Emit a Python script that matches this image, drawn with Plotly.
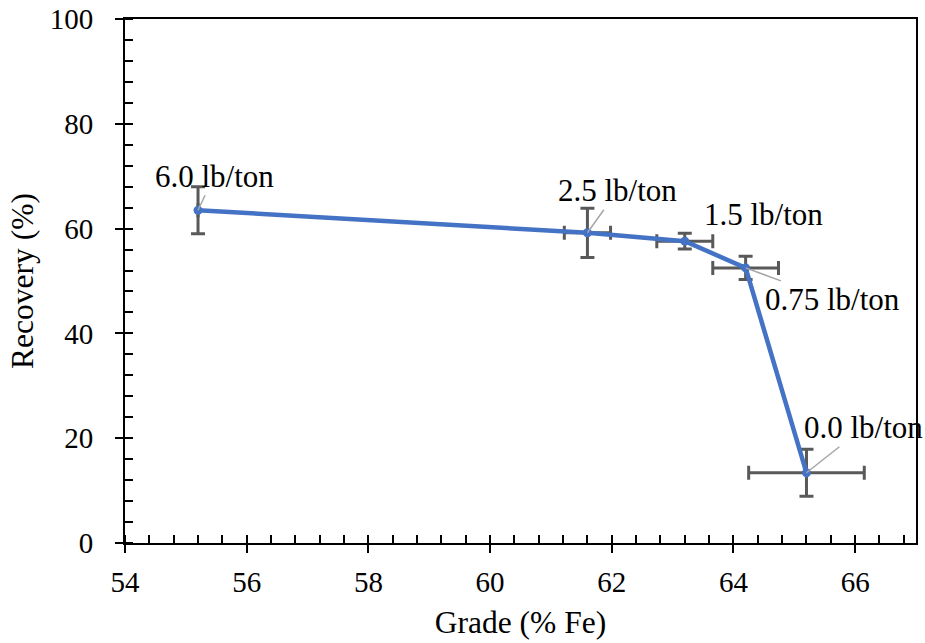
import plotly.graph_objects as go

grade = [55.2, 61.6, 63.2, 64.2, 65.2]
recovery = [63.5, 59.2, 57.6, 52.5, 13.4]
recovery_err = [4.5, 4.7, 1.5, 2.2, 4.5]
grade_err = [0.0, 0.38, 0.46, 0.54, 0.95]
labels = ["6.0 lb/ton", "2.5 lb/ton", "1.5 lb/ton", "0.75 lb/ton", "0.0 lb/ton"]
label_dx = [16, 30, 79, 87, 57]
label_dy = [-34, -42, -27, 32, -45]
label_arrow = [True, True, False, True, True]

FONT = "Liberation Serif"

fig = go.Figure()
fig.add_trace(go.Scatter(
    x=grade, y=recovery, mode="lines+markers",
    line=dict(color="#4472C4", width=4.5),
    marker=dict(color="#4472C4", size=9),
    error_y=dict(type="data", array=recovery_err, color="#595959", thickness=3, width=7),
    error_x=dict(type="data", array=grade_err, color="#595959", thickness=3, width=7),
    showlegend=False,
))

for x, y, t, dx, dy, arr in zip(grade, recovery, labels, label_dx, label_dy, label_arrow):
    if arr:
        fig.add_annotation(x=x, y=y, text=t, showarrow=True, ax=dx, ay=dy,
                           arrowhead=0, arrowcolor="#A6A6A6", arrowwidth=1.5,
                           font=dict(family=FONT, size=31, color="black"))
    else:
        fig.add_annotation(x=x, y=y, text=t, showarrow=False, xshift=dx, yshift=-dy,
                           font=dict(family=FONT, size=31, color="black"))

axis_common = dict(
    showline=True, linecolor="black", linewidth=2, mirror=True,
    showgrid=False, zeroline=False,
    ticks="outside", ticklen=8, tickwidth=2, tickcolor="black",
    tickfont=dict(family=FONT, size=29, color="black"),
    ticklabeloverflow="allow",
)

fig.update_xaxes(range=[54, 67], dtick=2, tick0=54,
                 minor=dict(dtick=0.4, ticks="inside", ticklen=8, tickwidth=2, tickcolor="black"),
                 title=dict(text="Grade (% Fe)", font=dict(family=FONT, size=31.5, color="black"), standoff=14),
                 ticklabelstandoff=4,
                 **axis_common)
fig.update_yaxes(range=[0, 100], dtick=20, tick0=0,
                 minor=dict(dtick=4, ticks="inside", ticklen=8, tickwidth=2, tickcolor="black"),
                 title=dict(text="Recovery (%)", font=dict(family=FONT, size=31.5, color="black"), standoff=7),
                 ticklabelstandoff=16,
                 **axis_common)

fig.update_layout(
    width=925, height=643,
    margin=dict(l=125, r=9, t=19, b=100, autoexpand=False),
    plot_bgcolor="white", paper_bgcolor="white",
    font=dict(family=FONT),
)

fig.write_html("out.html", config={"displayModeBar": False},
               post_script="document.body.style.margin='0';")
